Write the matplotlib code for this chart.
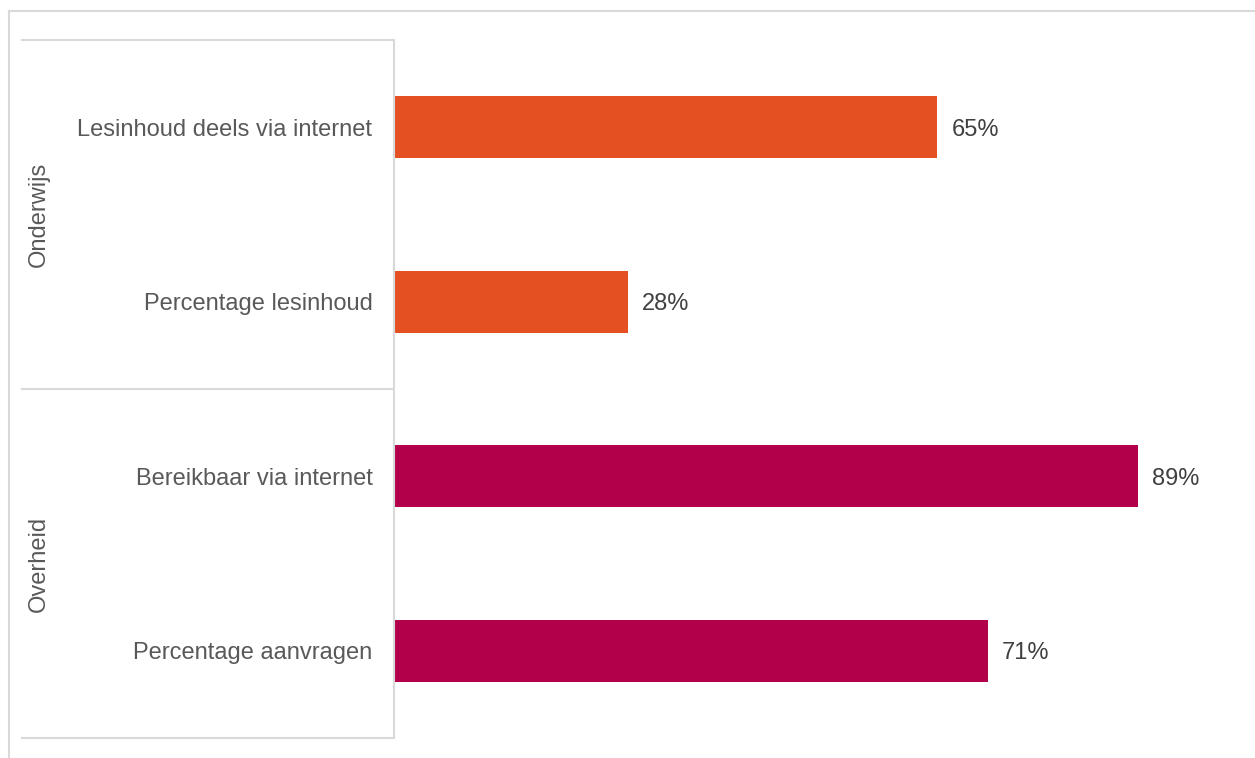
import matplotlib.pyplot as plt
from matplotlib.lines import Line2D

plt.rcParams['font.family'] = ['Liberation Sans', 'DejaVu Sans']

# data
categories = ['Lesinhoud deels via internet', 'Percentage lesinhoud',
              'Bereikbaar via internet', 'Percentage aanvragen']
values = [65, 28, 89, 71]
groups = ['Onderwijs', 'Overheid']
group_sizes = [2, 2]
group_colors = ['#E55022', '#B3004A']

W, H = 1255, 758
fig = plt.figure(figsize=(W / 100, H / 100), dpi=100)
ax = fig.add_axes([394 / W, 20 / H, 836 / W, 698 / H])

colors = []
for g, n in enumerate(group_sizes):
    colors += [group_colors[g]] * n

ypos = list(range(len(categories)))
ax.barh(ypos, values, height=0.356, color=colors)
ax.set_xlim(0, 100)
ax.set_ylim(len(categories) - 0.5, -0.5)

for y, v in zip(ypos, values):
    ax.text(v + 1.7, y, f'{v}%', va='center_baseline', ha='left', fontsize=17,
            color='#404040')

ax.set_xticks([])
ax.set_yticks(ypos)
ax.set_yticklabels(categories, fontsize=17, color='#595959')
for lbl in ax.get_yticklabels():
    lbl.set_verticalalignment('center_baseline')
ax.tick_params(axis='y', length=0, pad=15.5)
for s in ['top', 'right', 'bottom']:
    ax.spines[s].set_visible(False)
ax.spines['left'].set_color('#d9d9d9')
ax.spines['left'].set_linewidth(1.5)

# group box lines
line_c = '#d9d9d9'
x0 = (22 - 394) / 836
tr = ax.get_yaxis_transform()
bounds = [-0.5]
for n in group_sizes:
    bounds.append(bounds[-1] + n)
for b in bounds:
    ax.plot([x0, 0], [b, b], transform=tr, color=line_c, lw=1.5, clip_on=False)
xg = (39 - 394) / 836
for g, name in enumerate(groups):
    mid = (bounds[g] + bounds[g + 1]) / 2
    ax.text(xg, mid, name, transform=tr, rotation=90, ha='center', va='center',
            fontsize=17, color='#595959')

# outer frame
fig.add_artist(Line2D([9 / W, 1], [1 - 11 / H, 1 - 11 / H], color=line_c, lw=1.5))
fig.add_artist(Line2D([9 / W, 9 / W], [0, 1 - 11 / H], color=line_c, lw=1.5))

fig.savefig('out.png', dpi=100, facecolor='white')
